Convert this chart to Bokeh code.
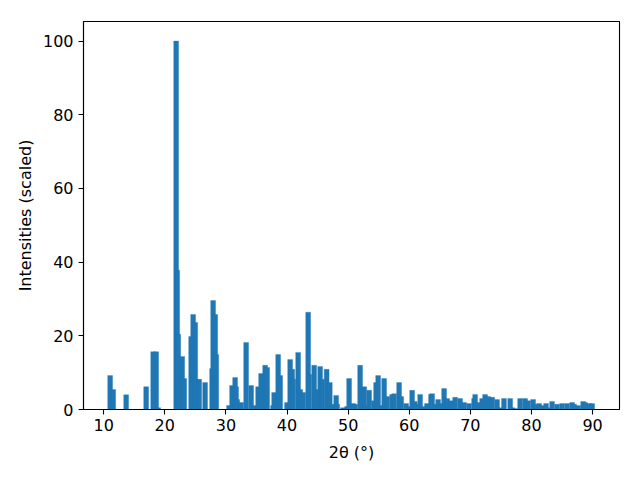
from bokeh.plotting import figure
from bokeh.models import ColumnDataSource, Range1d, FixedTicker
from bokeh.embed import file_html
from bokeh.resources import INLINE

two_theta = [
    11.06, 11.56, 13.68, 16.95, 18.10, 18.59, 18.92, 21.86, 22.03, 22.20,
    22.85, 23.18, 24.31, 24.64, 24.98, 25.63, 26.60, 27.74, 27.91, 28.25,
    28.42, 30.51, 31.01, 31.51, 31.67, 31.85, 32.50, 33.31, 34.13, 34.70,
    35.27, 35.76, 36.42, 36.75, 37.72, 37.89, 38.55, 38.88, 40.00, 40.51,
    40.85, 41.01, 41.82, 42.16, 42.65, 43.46, 43.63, 44.44, 44.93, 45.42,
    45.72, 46.48, 47.00, 47.33, 48.04, 48.21, 49.17, 49.83, 50.16, 50.83,
    51.15, 51.96, 52.63, 52.79, 53.44, 54.23, 54.57, 54.91, 55.40, 55.89,
    56.39, 57.20, 57.53, 58.34, 58.68, 59.49, 59.98, 60.47, 60.89, 61.13,
    61.78, 62.40, 62.90, 63.56, 63.74, 64.23, 64.72, 65.21, 65.70, 66.20,
    66.85, 67.51, 68.32, 68.99, 69.80, 70.61, 70.78, 71.35, 71.92, 72.41,
    72.91, 73.57, 74.37, 74.95, 75.50, 76.51, 76.84, 77.33, 78.14, 78.96,
    79.46, 80.27, 80.76, 81.25, 81.82, 82.39, 82.88, 83.37, 84.19, 85.01,
    85.83, 86.65, 86.98, 87.64, 88.45, 88.78, 89.45, 89.93,
]

intensities = [
    9.2, 5.4, 4.0, 6.2, 15.7, 15.7, 0.5, 100, 37.8, 20.4,
    14.4, 8.4, 19.8, 25.8, 23.6, 8.2, 7.3, 11.1, 29.6, 25.8,
    14.9, 1.1, 6.5, 8.7, 6.2, 2.7, 1.9, 18.2, 6.5, 1.1,
    6.2, 9.8, 12.0, 11.4, 1.1, 4.6, 14.9, 9.2, 1.9, 13.6,
    10.9, 8.2, 15.5, 5.4, 4.6, 26.4, 9.5, 12.0, 5.4, 11.7,
    8.2, 10.9, 7.3, 1.4, 3.8, 1.4, 0.5, 0.8, 8.4, 1.6,
    1.4, 12.0, 6.2, 1.1, 5.2, 2.4, 7.3, 9.2, 1.1, 8.4,
    3.5, 4.1, 4.3, 7.3, 3.5, 1.6, 0.8, 5.2, 2.2, 1.4,
    4.1, 0.8, 1.6, 4.1, 4.3, 1.4, 2.7, 1.6, 5.7, 3.0,
    2.4, 3.3, 3.0, 1.9, 1.6, 3.0, 4.1, 1.9, 3.0, 4.1,
    3.5, 3.3, 2.7, 0.5, 3.0, 3.0, 0.5, 0.3, 3.0, 3.0,
    2.4, 2.7, 1.4, 1.6, 1.1, 1.6, 0.5, 2.2, 1.4, 1.6,
    1.6, 1.9, 1.4, 1.1, 2.2, 1.9, 1.6, 1.6,
]

x_ticks = [10, 20, 30, 40, 50, 60, 70, 80, 90]
y_ticks = [0, 20, 40, 60, 80, 100]

source = ColumnDataSource(data=dict(x=two_theta, top=intensities))

p = figure(
    output_backend="svg", toolbar_location=None,
    frame_width=536, frame_height=388,
    min_border_left=83, min_border_right=13, min_border_top=21, min_border_bottom=63,
    x_range=Range1d(6.7, 94.4), y_range=Range1d(0, 105.3),
)
p.vbar(x="x", top="top", bottom=0, width=0.8, source=source,
       fill_color="#1f77b4", line_color="#1f77b4", line_width=0.3)

p.grid.visible = False
p.outline_line_color = "black"
p.outline_line_width = 1.1
p.background_fill_color = "white"
p.border_fill_color = "white"

p.xaxis.ticker = FixedTicker(ticks=x_ticks)
p.yaxis.ticker = FixedTicker(ticks=y_ticks)
p.xaxis.axis_label = "2θ (°)"
p.yaxis.axis_label = "Intensities (scaled)"

for ax in (p.xaxis, p.yaxis):
    ax.axis_line_color = "black"
    ax.axis_line_width = 1.1
    ax.major_tick_line_color = "black"
    ax.major_tick_line_width = 1.1
    ax.major_tick_out = 5
    ax.major_tick_in = 0
    ax.minor_tick_line_color = None
    ax.major_label_text_font = "DejaVu Sans"
    ax.major_label_text_font_size = "16px"
    ax.major_label_text_color = "black"
    ax.axis_label_text_font = "DejaVu Sans"
    ax.axis_label_text_font_size = "16px"
    ax.axis_label_text_font_style = "normal"
    ax.axis_label_text_color = "black"

p.xaxis.major_label_standoff = 4
p.yaxis.major_label_standoff = 5
p.xaxis.axis_label_standoff = 9
p.yaxis.axis_label_standoff = 5

open("out.html", "w").write(file_html(p, INLINE))
